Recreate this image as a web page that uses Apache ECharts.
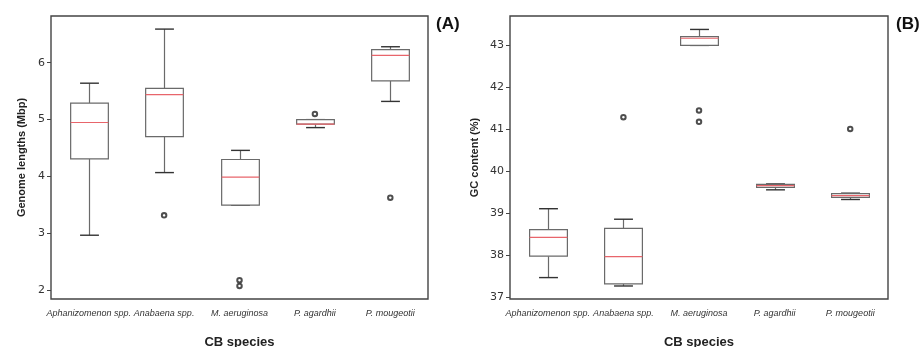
<!DOCTYPE html>
<html>
<head>
<meta charset="utf-8">
<script src="https://cdn.jsdelivr.net/npm/echarts@6/dist/echarts.min.js"></script>
<style>
  html, body { margin: 0; padding: 0; background: #fff; }
  #chart { width: 923px; height: 347px; }
</style>
</head>
<body>
<div id="chart"></div>
<script>
// species on the x axis (same for both panels)
var species = ['Aphanizomenon spp.', 'Anabaena spp.', 'M. aeruginosa', 'P. agardhii', 'P. mougeotii'];

// (A) genome lengths, Mbp : [min, q1, median, q3, max]
var genomeTicks = [2, 3, 4, 5, 6];
var genomeBoxes = [
  [2.97, 4.31, 4.95, 5.29, 5.64],
  [4.07, 4.70, 5.44, 5.55, 6.59],
  [3.50, 3.50, 3.99, 4.30, 4.46],
  [4.86, 4.92, 4.92, 5.00, 5.00],
  [5.32, 5.68, 6.13, 6.23, 6.28]
];
// outliers : [speciesIndex, value]
var genomeOutliers = [[1, 3.32], [2, 2.18], [2, 2.08], [3, 5.10], [4, 3.63]];

// (B) GC content, %
var gcTicks = [37, 38, 39, 40, 41, 42, 43];
var gcBoxes = [
  [37.47, 37.98, 38.43, 38.61, 39.11],
  [37.27, 37.32, 37.97, 38.64, 38.86],
  [43.00, 43.00, 43.17, 43.21, 43.38],
  [39.56, 39.62, 39.66, 39.69, 39.70],
  [39.33, 39.38, 39.42, 39.47, 39.48]
];
var gcOutliers = [[1, 41.29], [2, 41.45], [2, 41.18], [4, 41.01]];

function toCustom(boxes) {
  return boxes.map(function (b, i) { return [i].concat(b); });
}

// box + whiskers + red median, drawn from axis coords
function renderBox(params, api) {
  var x = api.value(0);
  var pMin = api.coord([x, api.value(1)]);
  var pQ1 = api.coord([x, api.value(2)]);
  var pMed = api.coord([x, api.value(3)]);
  var pQ3 = api.coord([x, api.value(4)]);
  var pMax = api.coord([x, api.value(5)]);
  var cx = Math.round(pMed[0]) + 0.5;
  var bw = api.size([1, 0])[0] * 0.5;
  var cw = bw * 0.5;
  var grey = { stroke: '#6a6a6a', lineWidth: 1.2, fill: null };
  var dark = { stroke: '#333', lineWidth: 1.4, fill: null };
  return {
    type: 'group',
    children: [
      { type: 'line', shape: { x1: cx, y1: pQ3[1], x2: cx, y2: pMax[1] }, style: grey },
      { type: 'line', shape: { x1: cx, y1: pQ1[1], x2: cx, y2: pMin[1] }, style: grey },
      { type: 'line', shape: { x1: cx - cw / 2, y1: pMax[1], x2: cx + cw / 2, y2: pMax[1] }, style: dark },
      { type: 'line', shape: { x1: cx - cw / 2, y1: pMin[1], x2: cx + cw / 2, y2: pMin[1] }, style: dark },
      { type: 'rect', shape: { x: cx - bw / 2, y: pQ3[1], width: bw, height: pQ1[1] - pQ3[1] },
        style: { stroke: '#6a6a6a', lineWidth: 1.2, fill: '#fff' } },
      { type: 'line', shape: { x1: cx - bw / 2, y1: pMed[1], x2: cx + bw / 2, y2: pMed[1] },
        style: { stroke: '#e8656b', lineWidth: 1.2 } }
    ]
  };
}

function xAxisFor(gi) {
  return {
    type: 'category', gridIndex: gi, data: species,
    name: 'CB species', nameLocation: 'middle', nameGap: 37,
    nameTextStyle: { fontFamily: 'Liberation Sans', fontWeight: 'bold', fontSize: 13, color: '#222' },
    axisLine: { show: false },
    axisTick: { alignWithLabel: true, length: 4, lineStyle: { color: '#444' } },
    axisLabel: { fontFamily: 'Liberation Sans', fontStyle: 'italic', fontSize: 9, color: '#333', margin: 10, interval: 0 },
    splitLine: { show: false }
  };
}
function yAxisFor(gi, name, min, max, gap, ticks) {
  return {
    type: 'value', gridIndex: gi, min: min, max: max,
    name: name, nameLocation: 'middle', nameGap: gap,
    nameTextStyle: { fontFamily: 'Liberation Sans', fontWeight: 'bold', fontSize: 11, color: '#222' },
    axisLine: { show: false },
    axisTick: { show: true, length: 4, customValues: ticks, lineStyle: { color: '#444' } },
    axisLabel: { fontFamily: 'DejaVu Sans', fontSize: 11, color: '#333', margin: 6, customValues: ticks },
    splitLine: { show: false }
  };
}

var chart = echarts.init(document.getElementById('chart'));
var option = {
  animation: false,
  backgroundColor: '#fff',
  grid: [
    { left: 51, top: 16, width: 377, height: 283, outerBoundsMode: 'none', containLabel: false,
      show: true, borderColor: '#444', borderWidth: 1.4 },
    { left: 510, top: 16, width: 378, height: 283, outerBoundsMode: 'none', containLabel: false,
      show: true, borderColor: '#444', borderWidth: 1.4 }
  ],
  graphic: [
    { type: 'text', left: 436, top: 16, style: { text: '(A)', font: 'bold 17px "Liberation Sans"', fill: '#111' } },
    { type: 'text', left: 896, top: 16, style: { text: '(B)', font: 'bold 17px "Liberation Sans"', fill: '#111' } }
  ],
  xAxis: [xAxisFor(0), xAxisFor(1)],
  yAxis: [
    yAxisFor(0, 'Genome lengths (Mbp)', 1.85, 6.82, 24, genomeTicks),
    yAxisFor(1, 'GC content (%)', 36.96, 43.70, 30, gcTicks)
  ],
  series: [
    { type: 'custom', xAxisIndex: 0, yAxisIndex: 0, renderItem: renderBox,
      encode: { x: 0, y: [1, 2, 3, 4, 5] }, data: toCustom(genomeBoxes) },
    { type: 'scatter', xAxisIndex: 0, yAxisIndex: 0, symbol: 'emptyCircle', symbolSize: 4.5,
      itemStyle: { color: '#222', borderColor: '#222', borderWidth: 1.2 }, data: genomeOutliers },
    { type: 'custom', xAxisIndex: 1, yAxisIndex: 1, renderItem: renderBox,
      encode: { x: 0, y: [1, 2, 3, 4, 5] }, data: toCustom(gcBoxes) },
    { type: 'scatter', xAxisIndex: 1, yAxisIndex: 1, symbol: 'emptyCircle', symbolSize: 4.5,
      itemStyle: { color: '#222', borderColor: '#222', borderWidth: 1.2 }, data: gcOutliers }
  ]
};
chart.setOption(option);
</script>
</body>
</html>
